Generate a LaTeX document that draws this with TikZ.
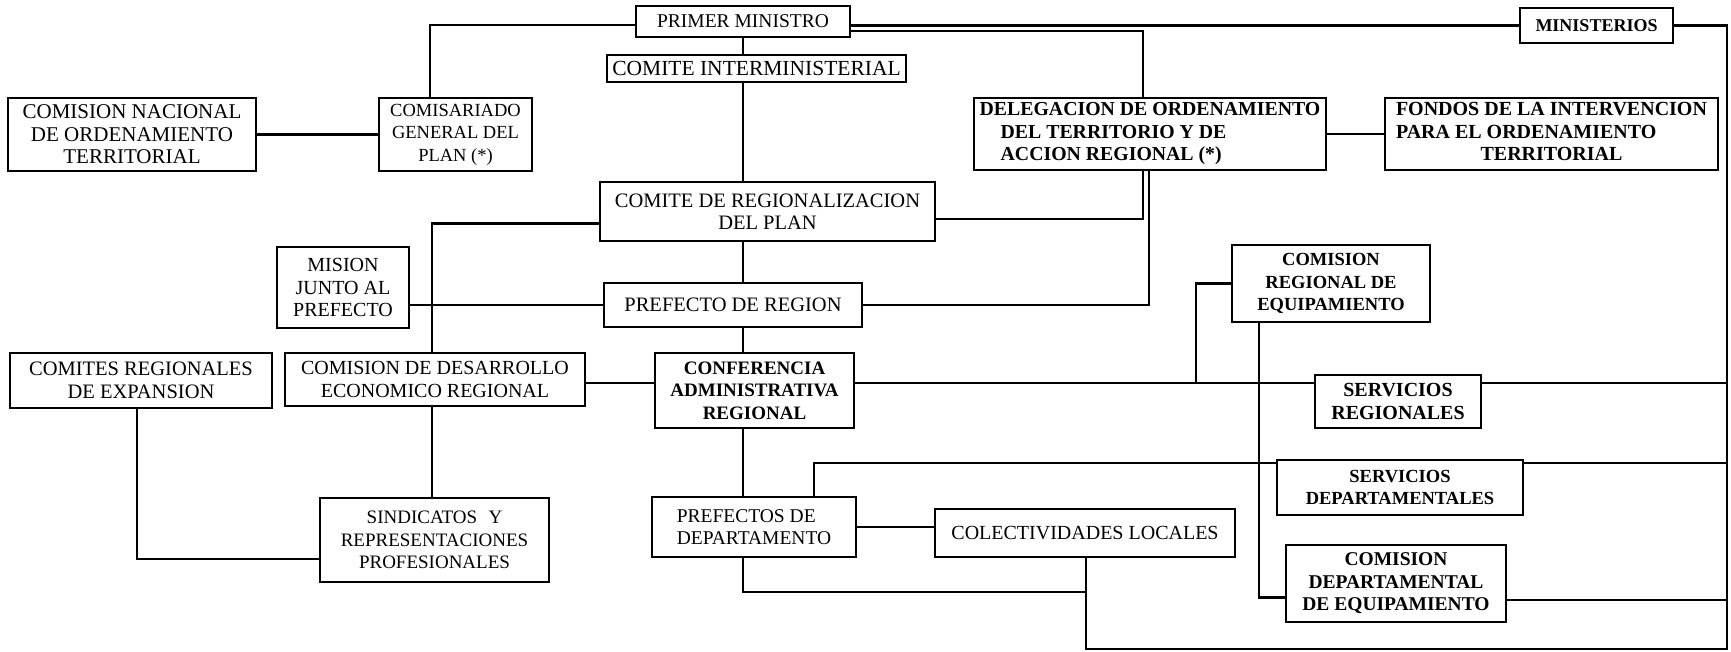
\documentclass[tikz,border=0pt]{standalone}
\usepackage{fontspec}
\setmainfont{Liberation Serif}
\newcommand\fz[1]{\fontsize{#1}{22.5}\selectfont}
\newcommand\mkbox[7]{\node[#6, minimum width={(#4)-(#2)}, minimum height={(#5)-(#3)}] (#1) at ({((#2)+(#4))/2},{((#3)+(#5))/2}) {#7};}
\begin{document}
\begin{tikzpicture}[x=1pt,y=-1pt,
  box/.style={draw, line width=1.7pt, inner sep=0pt, align=center, font=\fz{19.5}},
  conn/.style={line width=2.8pt}]
\useasboundingbox (0,0) rectangle (1731,652);
\fill[white] (0,0) rectangle (1731,652);
% boxes
\mkbox{PM}{636}{6}{850}{37}{box,font=\fz{19.5}}{PRIMER MINISTRO}
\mkbox{CI}{607}{55}{906}{82}{box,font=\fz{21.5}}{COMITE INTERMINISTERIAL}
\mkbox{MIN}{1520}{8}{1673}{43}{box,font=\fz{18}\bfseries}{MINISTERIOS}
\mkbox{CNOT}{8}{98}{256}{171}{box,font=\fz{21}}{COMISION NACIONAL\\DE ORDENAMIENTO\\TERRITORIAL}
\mkbox{COMIS}{379}{98}{532}{171}{box,font=\fz{18.5}}{COMISARIADO\\GENERAL DEL\\PLAN (*)}
\mkbox{DELEG}{974}{98}{1326}{170}{box,align=left,font=\fz{19.8}\bfseries}{DELEGACION DE ORDENAMIENTO\\\hspace*{21pt}DEL TERRITORIO Y DE\\\hspace*{21pt}ACCION REGIONAL (*)}
\mkbox{FONDOS}{1385}{98}{1718}{170}{box,font=\fz{20}\bfseries}{\begin{tabular}{@{}l@{}}FONDOS DE LA INTERVENCION\\PARA EL ORDENAMIENTO\\\multicolumn{1}{@{}c@{}}{TERRITORIAL}\end{tabular}}
\mkbox{CRP}{600}{182}{935}{241}{box,font=\fz{20.5}}{COMITE DE REGIONALIZACION\\DEL PLAN}
\mkbox{MISION}{277}{247}{409}{328}{box,font=\fz{20}}{MISION\\JUNTO AL\\PREFECTO}
\mkbox{PdR}{604}{283}{862}{327}{box,font=\fz{20.5}}{PREFECTO DE REGION}
\mkbox{CRE}{1232}{245}{1430}{322}{box,font=\fz{18.5}\bfseries}{COMISION\\REGIONAL DE\\EQUIPAMIENTO}
\mkbox{COMITES}{10}{353}{272}{408}{box,font=\fz{20.5}}{COMITES REGIONALES\\DE EXPANSION}
\mkbox{CDER}{285}{353}{585}{406}{box,font=\fz{20}}{COMISION DE DESARROLLO\\ECONOMICO REGIONAL}
\mkbox{CONF}{655}{353}{854}{428}{box,font=\fz{19}\bfseries}{CONFERENCIA\\ADMINISTRATIVA\\REGIONAL}
\mkbox{SR}{1315}{375}{1481}{428}{box,font=\fz{20}\bfseries}{SERVICIOS\\REGIONALES}
\mkbox{SD}{1277}{460}{1523}{515}{box,font=\fz{18.5}\bfseries}{SERVICIOS\\DEPARTAMENTALES}
\mkbox{SIND}{320}{498}{549}{582}{box,font=\fz{19}}{SINDICATOS\hspace{0.6em}Y\\REPRESENTACIONES\\PROFESIONALES}
\mkbox{PdD}{652}{497}{856}{557}{box,align=left,font=\fz{19.5}}{PREFECTOS DE\\DEPARTAMENTO}
\mkbox{CL}{935}{509}{1235}{557}{box,font=\fz{20}}{COLECTIVIDADES LOCALES}
\mkbox{CD}{1286}{545}{1506}{622}{box,font=\fz{19.5}\bfseries}{COMISION\\DEPARTAMENTAL\\DE EQUIPAMIENTO}
% helper coordinates
\coordinate (vx) at (743,0);
\coordinate (redge) at (1727,0);
\coordinate (jbot) at (1086,592);
\coordinate (jcre) at (1196,383);
% connectors
\draw[conn] (CNOT.east) -- (CNOT.east -| COMIS.west);
\draw[conn] ([yshift=-3.5pt]PM.west) -| (COMIS.north -| 430,0);
\draw[conn] (MIN.west) -- (MIN.west -| PM.east);
\draw[conn] ([yshift=-9.5pt]PM.east) -| (DELEG.north -| 1143,0);
\draw[conn] (MIN.east) -| (redge |- 0,649) -| (CL.south -| jbot);
\draw[conn] (PM.south -| vx) -- (CI.north -| vx);
\draw[conn] (CI.south -| vx) -- (CRP.north -| vx);
\draw[conn] (CRP.south -| vx) -- (PdR.north -| vx);
\draw[conn] (PdR.south -| vx) -- (CONF.north -| vx);
\draw[conn] (CONF.south -| vx) -- (PdD.north -| vx);
\draw[conn] (DELEG.east) -- (DELEG.east -| FONDOS.west);
\draw[conn] (DELEG.south -| 1143,0) |- ([yshift=-7.5pt]CRP.east);
\draw[conn] (DELEG.south -| 1149,0) |- (PdR.east);
\draw[conn] ([yshift=-12pt]CRP.west) -| (CDER.north -| 432,0);
\draw[conn] (PdR.west) -- (PdR.west -| MISION.east);
\draw[conn] (CDER.east |- 0,383) -- (CONF.west |- 0,383);
\draw[conn] (CONF.east |- 0,383) -- (SR.west |- 0,383);
\draw[conn] (SR.east |- 0,383) -- (redge |- 0,383);
\draw[conn] (CRE.west) -| (jcre);
\draw[conn] (CRE.south -| 1259,0) |- ([yshift=-14pt]CD.west);
\draw[conn] (CD.east |- 0,600) -- (redge |- 0,600);
\draw[conn] (PdD.north -| 814,0) |- (SD.west |- 0,463);
\draw[conn] (SD.east |- 0,463) -- (redge |- 0,463);
\draw[conn] (PdD.east) -- (PdD.east -| CL.west);
\draw[conn] (PdD.south -| vx) |- (jbot);
\draw[conn] (COMITES.south -| 137,0) |- (SIND.west |- 0,559);
\draw[conn] (CDER.south -| 432,0) -- (SIND.north -| 432,0);
\end{tikzpicture}
\end{document}
